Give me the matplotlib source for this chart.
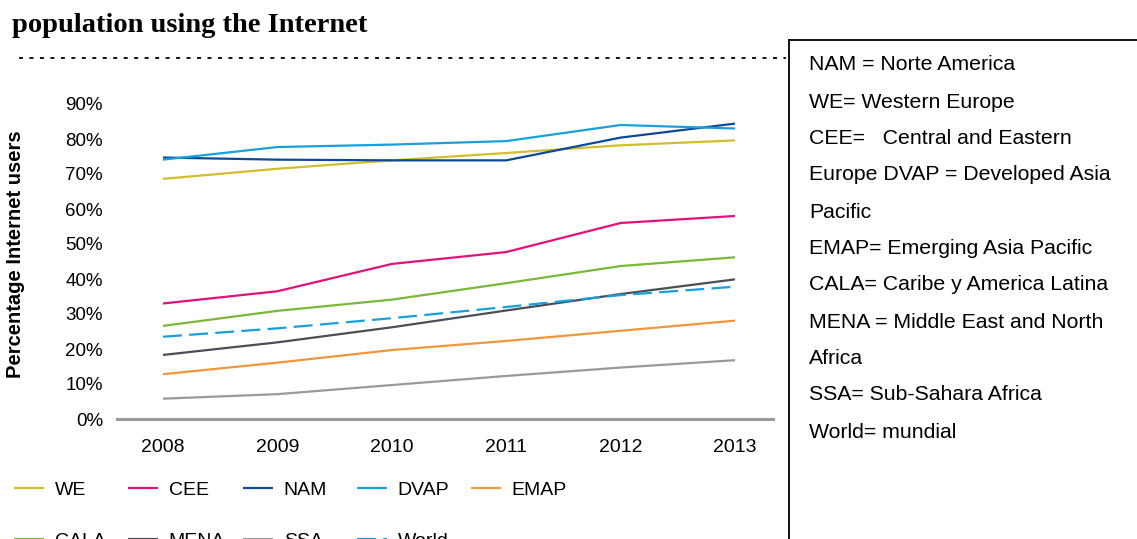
import matplotlib
matplotlib.use("Agg")
import matplotlib.pyplot as plt
from matplotlib.lines import Line2D

plt.rcParams['font.family'] = ['Liberation Sans', 'DejaVu Sans']

years = ["2008", "2009", "2010", "2011", "2012", "2013"]
y_ticks = [0, 10, 20, 30, 40, 50, 60, 70, 80, 90]
y_tick_labels = ["0%", "10%", "20%", "30%", "40%", "50%", "60%", "70%", "80%", "90%"]

we = [68.6, 71.5, 73.9, 76.0, 78.2, 79.6]
cee = [33.0, 36.5, 44.3, 47.7, 56.0, 58.0]
nam = [74.7, 74.1, 73.9, 73.9, 80.4, 84.4]
dvap = [74.1, 77.7, 78.4, 79.4, 84.0, 83.0]
emap = [12.8, 16.1, 19.7, 22.3, 25.2, 28.1]
cala = [26.6, 30.9, 34.1, 38.8, 43.7, 46.2]
mena = [18.3, 21.9, 26.2, 31.0, 35.7, 39.9]
ssa = [5.8, 7.1, 9.7, 12.3, 14.7, 16.8]
world = [23.5, 25.9, 28.8, 32.0, 35.4, 37.8]

title = "population using the Internet"
notes = [
    "NAM = Norte America",
    "WE= Western Europe",
    "CEE=   Central and Eastern",
    "Europe DVAP = Developed Asia",
    "Pacific",
    "EMAP= Emerging Asia Pacific",
    "CALA= Caribe y America Latina",
    "MENA = Middle East and North",
    "Africa",
    "SSA= Sub-Sahara Africa",
    "World= mundial",
]

W, H = 1137, 539
fig = plt.figure(figsize=(W / 100, H / 100), dpi=100)

def fx(px):
    return px / W

def fy(py):
    return 1 - py / H

ax_left, ax_right, ax_top, ax_bottom = 117, 773, 104, 419
ax = fig.add_axes([fx(ax_left), fy(ax_bottom), (ax_right - ax_left) / W, (ax_bottom - ax_top) / H])

x = list(range(len(years)))
series = [
    ("WE", we, "#D2BE2C", "-"),
    ("CEE", cee, "#E2127A", "-"),
    ("NAM", nam, "#0C4A98", "-"),
    ("DVAP", dvap, "#16A0DC", "-"),
    ("EMAP", emap, "#F0973E", "-"),
    ("CALA", cala, "#7AB83A", "-"),
    ("MENA", mena, "#4B4E57", "-"),
    ("SSA", ssa, "#9A9A9A", "-"),
    ("World", world, "#16A0DC", "--"),
]
handles = {}
for name, vals, col, ls in series:
    ln, = ax.plot(x, vals, color=col, lw=1.6, linestyle=ls, solid_capstyle='butt')
    if ls == "--":
        ln.set_dashes((8.5, 3.3))
    handles[name] = ln

span = 735 - 163
step = span / 5
ax.set_xlim(-(163 - ax_left) / step, 5 + (ax_right - 735) / step)
ax.set_ylim(0, 90)
ax.set_xticks(x)
ax.set_xticklabels(years, fontsize=14)
ax.set_yticks(y_ticks)
ax.set_yticklabels(y_tick_labels, fontsize=13.5)
ax.tick_params(axis='both', length=0)
ax.tick_params(axis='x', pad=14.5)
ax.tick_params(axis='y', pad=10)
for s in ["top", "right", "left"]:
    ax.spines[s].set_visible(False)
ax.spines["bottom"].set_color("#9A9A9A")
ax.spines["bottom"].set_linewidth(2.2)
ax.set_ylabel("Percentage Internet users", fontsize=14.5, fontweight='bold', labelpad=0)
ax.yaxis.set_label_coords((25 - ax_left) / (ax_right - ax_left), (ax_bottom - 254) / (ax_bottom - ax_top))

# title
fig.text(fx(12), fy(32), title, fontsize=20.5, fontweight='bold',
         family=['Liberation Serif', 'DejaVu Serif'], ha='left', va='baseline')

# dotted rule
fig.add_artist(Line2D([fx(19), fx(786)], [fy(57.5), fy(57.5)], color='black', lw=1.3,
                      linestyle=(0, (2.2, 3.6))))

# notes box
fig.add_artist(Line2D([fx(789), fx(789)], [fy(40), fy(545)], color='black', lw=1.3))
fig.add_artist(Line2D([fx(789), fx(1140)], [fy(40), fy(40)], color='black', lw=1.3))
note_y = [63, 101, 137, 174, 211, 248, 284, 321, 358, 394, 432]
for t, yy in zip(notes, note_y):
    fig.text(fx(809), fy(yy + 1), t, fontsize=15.3, ha='left', va='center')

# legend in columns
cols = [["WE", "CALA"], ["CEE", "MENA"], ["NAM", "SSA"], ["DVAP", "World"], ["EMAP"]]
col_x = [14, 128, 243, 357, 471]
for names, cx in zip(cols, col_x):
    fig.legend([handles[n] for n in names], names, loc='upper left',
               bbox_to_anchor=(fx(cx), fy(481)), bbox_transform=fig.transFigure,
               frameon=False, fontsize=14, handlelength=1.55, handletextpad=0.55,
               borderpad=0, borderaxespad=0, labelspacing=1.75)

fig.savefig("out.png", dpi=100)
